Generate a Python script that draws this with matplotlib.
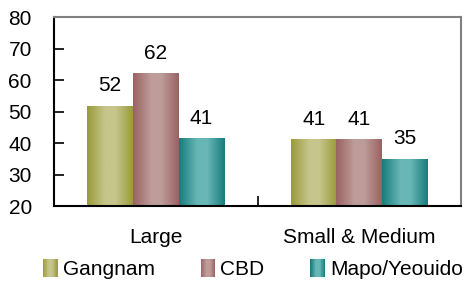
import matplotlib
matplotlib.use("Agg")
import matplotlib.pyplot as plt
import numpy as np
from matplotlib.colors import LinearSegmentedColormap
from matplotlib.legend_handler import HandlerBase
from matplotlib.patches import Rectangle

categories = ["Large", "Small & Medium"]
series = ["Gangnam", "CBD", "Mapo/Yeouido"]
gangnam = [51.6, 41.0]
cbd = [62.0, 41.0]
mapo = [41.3, 34.8]
labels = [["52", "41"], ["62", "41"], ["41", "35"]]

# (dark edge, light centre) per series
COLORS = [("#9a9a3a", "#c6c68c"), ("#9a6262", "#bd9c9a"), ("#177c7c", "#68b6b6")]
FONTSIZE = 15
YMIN, YMAX = 20, 80

plt.rcParams["font.family"] = ["Liberation Sans", "DejaVu Sans"]


def make_cmap(dark, light):
    return LinearSegmentedColormap.from_list(
        "g", [(0.0, dark), (0.4, light), (0.62, light), (1.0, dark)]
    )


class GradientHandler(HandlerBase):
    def __init__(self, dark, light):
        super().__init__()
        self.cmap = make_cmap(dark, light)

    def create_artists(self, legend, orig_handle, xdescent, ydescent,
                       width, height, fontsize, trans):
        n = 20
        w = width / n
        arts = []
        for k in range(n):
            r = Rectangle((-xdescent + k * w, -ydescent - 0.15 * height), w * 1.05,
                          height * 1.25, facecolor=self.cmap((k + 0.5) / n),
                          edgecolor="none", transform=trans)
            arts.append(r)
        return arts


fig = plt.figure(figsize=(4.66, 2.82), dpi=100)
ax = fig.add_axes([0.1159, 0.2695, 0.8734, 0.6702])

x = np.arange(len(categories))
width = 0.224
grad = np.linspace(0, 1, 256).reshape(1, -1)
handles = []
for i, vals in enumerate([gangnam, cbd, mapo]):
    dark, light = COLORS[i]
    cmap = make_cmap(dark, light)
    bars = ax.bar(x + (i - 1) * width, vals, width,
                  color=light, edgecolor="none", label=series[i])
    for b, lab in zip(bars, labels[i]):
        bx, bw, bh = b.get_x(), b.get_width(), b.get_height()
        ax.imshow(grad, cmap=cmap, aspect="auto",
                  extent=[bx, bx + bw, YMIN, bh], zorder=2)
        ax.annotate(lab, (bx + bw / 2, bh), xytext=(0, 8),
                    textcoords="offset points", ha="center", va="bottom",
                    fontsize=FONTSIZE)
    handles.append(bars)

ax.set_xlim(-0.5, 1.5)
ax.set_ylim(YMIN, YMAX)
ax.set_yticks(np.arange(YMIN, YMAX + 1, 10))
ax.set_xticks(x)
ax.set_xticklabels(categories, fontsize=FONTSIZE)
ax.set_xticks([0.5], minor=True)
ax.tick_params(axis="x", which="major", length=0, pad=16)
ax.tick_params(axis="x", which="minor", direction="in", length=7, width=1.2)
ax.tick_params(axis="y", direction="in", length=7, width=1.2, pad=16,
               labelsize=FONTSIZE)

for s in ["left", "bottom"]:
    ax.spines[s].set_color("black")
    ax.spines[s].set_linewidth(1.5)
for s in ["top", "right"]:
    ax.spines[s].set_color("#808080")
    ax.spines[s].set_linewidth(1.5)

fig.legend(handles, series, loc="center", bbox_to_anchor=(0.543, 0.044),
           ncol=3, frameon=False, fontsize=FONTSIZE, handlelength=0.7,
           handleheight=0.7, handletextpad=0.25, columnspacing=2.2,
           handler_map={h: GradientHandler(*c) for h, c in zip(handles, COLORS)})

fig.savefig("out.png", dpi=100)
